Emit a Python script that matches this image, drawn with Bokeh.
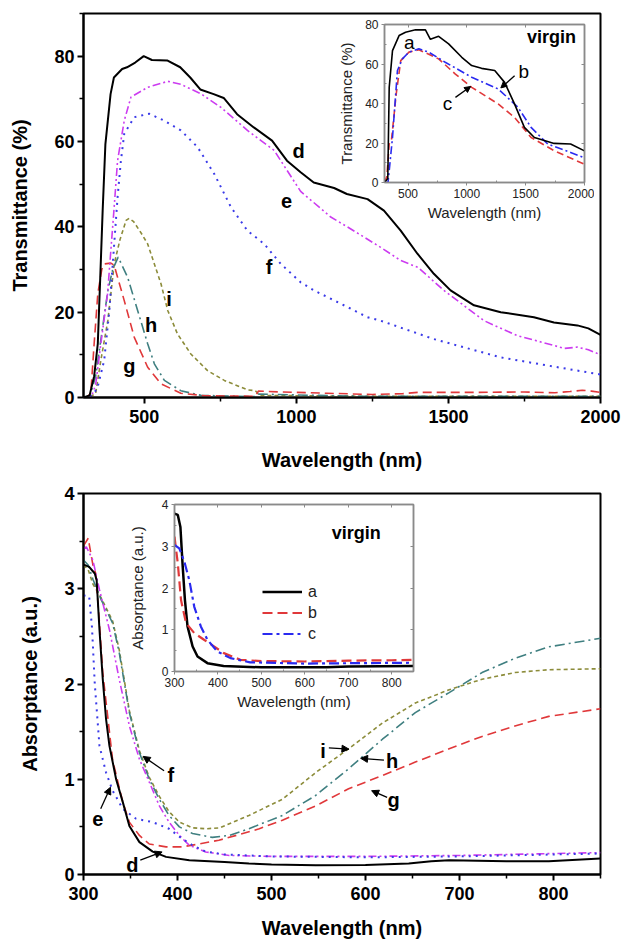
from bokeh.plotting import figure
from bokeh.models import Range1d, FixedTicker, LinearAxis, Arrow, NormalHead, Legend, LegendItem, ColumnDataSource
from bokeh.layouts import column
from bokeh.core.properties import value
from bokeh.embed import file_html
from bokeh.resources import INLINE

FONT = "Liberation Sans"

# ---------------- Data: top panel (Transmittance %) ----------------
td_x = [300, 320, 335, 347, 355, 363, 372, 389, 400, 427, 443, 470, 498, 525, 575, 618, 651, 684, 728, 761,
        805, 860, 920, 969, 1014, 1057, 1124, 1166, 1234, 1288, 1343, 1398, 1452, 1507, 1584, 1672, 1781,
        1847, 1924, 1960, 2000]
td_y = [0, 0.5, 5, 12.6, 28, 43.8, 59.4, 71.1, 75, 77, 77.4, 78.5, 80, 79.1, 79, 77.4, 75, 72.2, 71.1, 70.2,
        66.4, 63.3, 60.2, 55.5, 52.8, 50.4, 49.1, 47.7, 46.5, 43.8, 39.1, 33.7, 29, 25.1, 21.6, 20, 18.8,
        17.6, 16.9, 16.2, 14.7]
te_x = [300, 325, 340, 357, 379, 400, 412, 434, 456, 511, 577, 620, 686, 752, 839, 927, 1014, 1113, 1179,
        1277, 1343, 1400, 1485, 1617, 1726, 1847, 1880, 1924, 1960, 2000]
te_y = [0, 0, 3, 12.6, 24.3, 43.8, 55.5, 64.9, 70.4, 72.7, 74.1, 73.4, 71.2, 68, 62.6, 57.9, 48.3, 42.3, 39.5,
        35.2, 32.1, 30.5, 25.1, 18, 14.5, 12.2, 11.5, 11.8, 11.2, 10]
tf_x = [300, 320, 345, 368, 385, 401, 412, 423, 434, 467, 516, 565, 620, 675, 730, 785, 839, 894, 949, 1014,
        1058, 1168, 1234, 1277, 1452, 1672, 1891, 2000]
tf_y = [0, 0, 2, 8.7, 20.4, 36, 46.9, 55.5, 61.8, 65.7, 66.5, 64.9, 62.6, 58.7, 52.4, 44.6, 39.1, 36, 31.3, 27,
        25.1, 21.2, 18.8, 18, 13.7, 9.4, 6.7, 5.4]
tg_x = [300, 310, 324, 335, 347, 360, 368, 390, 401, 412, 434, 467, 511, 555, 620, 700, 865, 875, 950, 1100,
        1250, 1350, 1400, 1600, 1750, 1850, 1900, 1940, 1970, 2000]
tg_y = [0, 0, 1, 12.6, 24.3, 30, 31.3, 31.5, 31, 28.2, 22.7, 14.1, 7.1, 3.2, 1.0, 0.4, 0.3, 1.5, 1.3, 1.0,
        0.7, 0.9, 1.2, 1.2, 1.3, 1.1, 1.4, 1.7, 1.5, 1.2]
th_x = [300, 320, 340, 360, 380, 396, 414, 445, 478, 511, 533, 566, 620, 686, 865, 875, 1000, 1200, 1600, 2000]
th_y = [0, 0, 5, 15, 25, 30, 32.9, 28.2, 20.4, 12.6, 7.9, 4.0, 1.6, 0.5, 0.2, 0.8, 0.6, 0.3, 0.3, 0.3]
ti_x = [300, 320, 340, 357, 380, 401, 420, 440, 450, 465, 490, 511, 555, 577, 609, 653, 708, 763, 839, 865,
        880, 1200, 1600, 2000]
ti_y = [0, 0, 1, 8.7, 18, 31.3, 37, 41.5, 42, 41.2, 38.5, 36, 26.6, 20.4, 14.9, 10.2, 6.3, 4.0, 1.8, 1.6,
        0.5, 0.3, 0.3, 0.3]

# top inset (virgin)
ia_x = [300, 328, 340, 368, 424, 479, 564, 648, 690, 760, 845, 957, 1041, 1125, 1237, 1321, 1405, 1489, 1574,
        1742, 1882, 2000]
ia_y = [0, 2, 48.2, 66.8, 74.4, 76.1, 77.3, 77.3, 72.5, 74, 70.2, 63.4, 59.2, 57.8, 56.7, 50.7, 39.8, 27.9,
        22.8, 19.8, 19.5, 16]
ib_x = [300, 330, 368, 410, 452, 508, 592, 676, 816, 1041, 1266, 1434, 1546, 1687, 1882, 2000]
ib_y = [0, 0, 22.8, 56.7, 62.6, 66, 67.7, 66, 60.9, 53.3, 47.4, 38.1, 27.9, 19.5, 15.2, 12.5]
ic_x = [300, 320, 340, 360, 400, 438, 508, 592, 760, 900, 1041, 1266, 1405, 1546, 1742, 2000]
ic_y = [0, 3, 19.5, 22, 45, 61.7, 66, 67.2, 62.6, 55, 48.2, 39.8, 33, 22.8, 16.1, 9.2]

# ---------------- Data: bottom panel (Absorptance) ----------------
bd_x = [300, 301, 306, 312, 314, 317, 320.5, 324, 327.6, 334.7, 341.8, 348.8, 359.5, 373.6, 387.8, 412.6, 450,
        476, 500, 547, 600, 646, 670, 689, 750, 795, 850]
bd_y = [3.25, 3.25, 3.23, 3.16, 3.09, 2.57, 2.05, 1.63, 1.35, 1.0, 0.76, 0.51, 0.34, 0.24, 0.185, 0.15, 0.13,
        0.115, 0.105, 0.097, 0.10, 0.115, 0.14, 0.15, 0.14, 0.14, 0.167]
be_x = [300, 306, 309, 312, 317, 324, 331, 341.7, 356, 373.6, 391, 405, 416, 430, 450, 500, 600, 700, 800, 850]
be_y = [2.93, 2.92, 2.6, 2.0, 1.35, 1.07, 0.88, 0.69, 0.585, 0.55, 0.48, 0.376, 0.306, 0.24, 0.21, 0.19, 0.18,
        0.19, 0.21, 0.22]
bf_x = [300, 303, 310, 317, 327.6, 338, 348.8, 359.5, 370, 380.7, 391, 402, 412.6, 430, 455, 500, 600, 700,
        800, 850]
bf_y = [3.42, 3.44, 3.3, 2.99, 2.57, 2.05, 1.56, 1.21, 0.97, 0.72, 0.55, 0.41, 0.306, 0.237, 0.2, 0.19, 0.19,
        0.2, 0.22, 0.23]
bg_x = [300, 305, 310, 313, 317, 320.5, 331, 341.8, 348.8, 359.5, 370, 387.8, 405, 423, 444, 466, 487, 511.6,
        547, 582, 618, 653, 689, 724, 759, 795, 850]
bg_y = [3.45, 3.53, 3.25, 3.16, 2.64, 2.12, 1.2, 0.76, 0.55, 0.41, 0.32, 0.29, 0.29, 0.32, 0.36, 0.42, 0.48,
        0.57, 0.72, 0.90, 1.04, 1.18, 1.32, 1.45, 1.56, 1.66, 1.74]
bh_x = [300, 305, 310, 319, 331, 338, 348.8, 359.5, 370, 380.7, 391, 402, 416, 437, 455, 476, 511.6, 547, 582,
        618, 653, 689, 724, 759, 795, 850]
bh_y = [3.3, 3.25, 3.1, 2.88, 2.64, 2.33, 1.70, 1.28, 1.0, 0.79, 0.62, 0.50, 0.43, 0.39, 0.41, 0.48, 0.62,
        0.83, 1.11, 1.42, 1.70, 1.91, 2.12, 2.27, 2.39, 2.48]
bi_x = [300, 305, 310, 319, 331, 338, 348.8, 359.5, 370, 380.7, 391, 402, 416, 430, 445, 476, 511.6, 547, 582,
        618, 653, 689, 724, 759, 795, 850]
bi_y = [3.25, 3.2, 3.05, 2.9, 2.66, 2.36, 1.72, 1.30, 1.02, 0.82, 0.66, 0.55, 0.49, 0.48, 0.49, 0.62, 0.79,
        1.07, 1.32, 1.59, 1.80, 1.94, 2.05, 2.12, 2.15, 2.16]

# bottom inset (virgin)
ja_x = [300, 307.6, 313.6, 318.9, 324, 330, 341.7, 353, 375.8, 413, 500, 650, 700, 850]
ja_y = [3.78, 3.75, 3.46, 2.51, 1.71, 1.08, 0.6, 0.36, 0.2, 0.13, 0.1, 0.1, 0.12, 0.13]
jb_x = [300, 307.6, 315, 326.5, 345.5, 368, 391, 413.6, 451.6, 500, 600, 700, 800, 850]
jb_y = [3.23, 2.59, 1.71, 1.16, 0.92, 0.76, 0.6, 0.44, 0.28, 0.25, 0.24, 0.26, 0.27, 0.28]
jc_x = [300, 311, 322.7, 334, 345.5, 360.6, 375.8, 398.5, 428.8, 474, 600, 850]
jc_y = [3.03, 2.95, 2.63, 2.19, 1.55, 1.08, 0.76, 0.48, 0.32, 0.22, 0.19, 0.21]

# ticks
top_xticks = [500, 1000, 1500, 2000]
top_xminor = [750, 1250, 1750]
top_yticks = [0, 20, 40, 60, 80]
top_yminor = [10, 30, 50, 70, 90]
bot_xticks = [300, 400, 500, 600, 700, 800]
bot_xminor = [350, 450, 550, 650, 750, 850]
bot_yticks = [0, 1, 2, 3, 4]
bot_yminor = [0.5, 1.5, 2.5, 3.5]

# annotations
top_lbl = ["d", "e", "f", "i", "h", "g"]
top_lbl_x = [1007, 968, 910, 581, 522, 451]
top_lbl_y = [57.8, 46.1, 30.5, 23.1, 16.9, 7.5]
ins1_lbl = ["a", "b", "c", "virgin"]
ins1_lbl_x = [510, 1484, 836, 1720]
ins1_lbl_y = [71, 56.3, 39.8, 73.5]
ins1_arrows = [(1406, 54.1, 1289, 47.9), (903, 43.1, 1032, 48.6)]
bot_lbl = ["i", "h", "g", "f", "e", "d"]
bot_lbl_x = [554.8, 628.4, 630, 392.8, 315.3, 352]
bot_lbl_y = [1.30, 1.19, 0.78, 1.04, 0.585, 0.097]
bot_arrows = [(561, 1.33, 582.4, 1.316), (619.6, 1.20, 594.8, 1.22), (623, 0.81, 606.5, 0.88),
              (385.7, 1.09, 363.4, 1.24), (318.3, 0.69, 328.7, 0.916), (360.4, 0.15, 383.6, 0.237)]
ins2_virgin = (718, 3.31)

RED = "#e0383a"
MAG = "#cc3cf0"
BLUE = "#3a3ae8"
TEAL = "#3f7f80"
OLIVE = "#8c8c3a"
IBLUE = "#2a2af0"
GRAY = "#8a8a8a"


def style_main(p, xt, xm, yt, ym, xlabel, ylabel, xstand):
    p.outline_line_color = "black"
    p.outline_line_width = 2
    p.xgrid.visible = False
    p.ygrid.visible = False
    p.xaxis.ticker = FixedTicker(ticks=xt, minor_ticks=xm)
    p.yaxis.ticker = FixedTicker(ticks=yt, minor_ticks=ym)
    for ax in (p.xaxis[0], p.yaxis[0]):
        ax.axis_line_width = 2
        ax.axis_line_color = "black"
        ax.major_tick_line_width = 2
        ax.minor_tick_line_width = 1.5
        ax.major_tick_out = 6
        ax.major_tick_in = 0
        ax.minor_tick_out = 4
        ax.minor_tick_in = 0
        ax.major_label_text_font = FONT
        ax.major_label_text_font_size = "18px"
        ax.major_label_text_font_style = "bold"
        ax.major_label_text_color = "black"
        ax.axis_label_text_font = FONT
        ax.axis_label_text_font_size = "20px"
        ax.axis_label_text_font_style = "bold"
        ax.axis_label_text_color = "black"
    p.xaxis.axis_label = xlabel
    p.yaxis.axis_label = ylabel
    p.xaxis.major_label_standoff = 6
    p.xaxis.axis_label_standoff = xstand
    p.yaxis.major_label_standoff = 3
    p.yaxis.axis_label_standoff = 20


def style_inset(p, xt, xm, yt, ym, xlabel, ylabel, ystand):
    p.outline_line_color = GRAY
    p.outline_line_width = 1.5
    p.background_fill_color = "white"
    p.border_fill_alpha = 0
    p.xgrid.visible = False
    p.ygrid.visible = False
    xtk = FixedTicker(ticks=xt, minor_ticks=xm)
    ytk = FixedTicker(ticks=yt, minor_ticks=ym)
    p.xaxis.ticker = xtk
    p.yaxis.ticker = ytk
    for ax in (p.xaxis[0], p.yaxis[0]):
        ax.axis_line_color = GRAY
        ax.axis_line_width = 1.5
        ax.major_tick_line_color = GRAY
        ax.minor_tick_line_color = GRAY
        ax.major_tick_out = 3
        ax.major_tick_in = 0
        ax.minor_tick_out = 0
        ax.minor_tick_in = 2
        ax.major_label_text_font = FONT
        ax.major_label_text_font_size = "12px"
        ax.major_label_text_color = "#222222"
        ax.axis_label_text_font = FONT
        ax.axis_label_text_font_size = "15px"
        ax.axis_label_text_font_style = "normal"
        ax.axis_label_text_color = "#222222"
    p.xaxis.axis_label = xlabel
    p.yaxis.axis_label = ylabel
    p.xaxis.major_label_standoff = 3
    p.xaxis.axis_label_standoff = 3
    p.yaxis.major_label_standoff = 3
    p.yaxis.axis_label_standoff = ystand
    # mirrored inward ticks on the top and right edges (no labels)
    for loc, tk in (("above", xtk), ("right", ytk)):
        ax = LinearAxis(ticker=tk)
        ax.axis_line_color = GRAY
        ax.axis_line_width = 1.5
        ax.major_tick_line_color = GRAY
        ax.minor_tick_line_color = GRAY
        ax.major_tick_in = 3
        ax.major_tick_out = 0
        ax.minor_tick_in = 0
        ax.minor_tick_out = 0
        ax.major_label_text_font_size = "1px"
        ax.major_label_text_color = None
        ax.major_label_standoff = 0
        p.add_layout(ax, loc)


def add_labels(p, xs, ys, texts, size, style):
    src = ColumnDataSource(dict(x=xs, y=ys, t=texts))
    p.text(x="x", y="y", text="t", source=src, text_font=value(FONT), text_font_size=value(size),
           text_font_style=style, text_align="center", text_baseline="middle", text_color="black")


def add_arrows(p, arrows, size):
    for (x0, y0, x1, y1) in arrows:
        p.add_layout(Arrow(end=NormalHead(size=size, fill_color="black", line_color="black", line_width=1),
                           x_start=x0, y_start=y0, x_end=x1, y_end=y1, line_color="black", line_width=1.3))


# ---------------- Top main figure ----------------
p1 = figure(width=621, height=476, x_range=Range1d(300, 2000), y_range=Range1d(0, 90),
            output_backend="svg", toolbar_location=None,
            min_border_left=83, min_border_right=21, min_border_top=13, min_border_bottom=79)
p1.background_fill_color = "white"
p1.border_fill_color = "white"
style_main(p1, top_xticks, top_xminor, top_yticks, top_yminor, "Wavelength (nm)", "Transmittance (%)", 23)
p1.line(ti_x, ti_y, line_color=OLIVE, line_width=1.6, line_dash="4 3")
p1.line(th_x, th_y, line_color=TEAL, line_width=1.6, line_dash="10 4 2 4")
p1.line(tg_x, tg_y, line_color=RED, line_width=1.6, line_dash="9 5")
p1.line(tf_x, tf_y, line_color=BLUE, line_width=2, line_dash="2 5")
p1.line(te_x, te_y, line_color=MAG, line_width=1.6, line_dash="8 3 2 3 2 3")
p1.line(td_x, td_y, line_color="black", line_width=2)
add_labels(p1, top_lbl_x, top_lbl_y, top_lbl, "20px", "bold")

# ---------------- Bottom main figure ----------------
p2 = figure(width=621, height=467, x_range=Range1d(300, 850), y_range=Range1d(0, 4),
            output_backend="svg", toolbar_location=None,
            min_border_left=83, min_border_right=21, min_border_top=17, min_border_bottom=69)
p2.background_fill_color = "white"
p2.border_fill_color = "white"
style_main(p2, bot_xticks, bot_xminor, bot_yticks, bot_yminor, "Wavelength (nm)", "Absorptance (a.u.)", 14)
p2.line(bi_x, bi_y, line_color=OLIVE, line_width=1.6, line_dash="4 3")
p2.line(bh_x, bh_y, line_color=TEAL, line_width=1.6, line_dash="10 4 2 4")
p2.line(bg_x, bg_y, line_color=RED, line_width=1.6, line_dash="9 5")
p2.line(bf_x, bf_y, line_color=MAG, line_width=1.6, line_dash="8 3 2 3 2 3")
p2.line(be_x, be_y, line_color=BLUE, line_width=2, line_dash="2 5")
p2.line(bd_x, bd_y, line_color="black", line_width=2)
add_labels(p2, bot_lbl_x, bot_lbl_y, bot_lbl, "20px", "bold")
add_arrows(p2, bot_arrows, 7)

# ---------------- Top inset ----------------
q1 = figure(width=259, height=207, x_range=Range1d(300, 2000), y_range=Range1d(0, 80),
            output_backend="svg", toolbar_location=None,
            min_border_left=47, min_border_right=10, min_border_top=6, min_border_bottom=43,
            styles={"position": "absolute", "left": "335px", "top": "18px"})
style_inset(q1, top_xticks, top_xminor, top_yticks, top_yminor, "Wavelength (nm)", "Transmittance (%)", 7)
q1.line(ic_x, ic_y, line_color=RED, line_width=1.6, line_dash="7 4")
q1.line(ib_x, ib_y, line_color=IBLUE, line_width=1.6, line_dash="8 3 2 3")
q1.line(ia_x, ia_y, line_color="black", line_width=1.6)
add_labels(q1, ins1_lbl_x[:3], ins1_lbl_y[:3], ins1_lbl[:3], "19px", "normal")
add_labels(q1, ins1_lbl_x[3:], ins1_lbl_y[3:], ins1_lbl[3:], "18px", "bold")
add_arrows(q1, ins1_arrows, 6)

# ---------------- Bottom inset ----------------
q2 = figure(width=295, height=216, x_range=Range1d(300, 850), y_range=Range1d(0, 4),
            output_backend="svg", toolbar_location=None,
            min_border_left=45, min_border_right=7, min_border_top=6, min_border_bottom=43,
            styles={"position": "absolute", "left": "125px", "top": "498px"})
style_inset(q2, bot_xticks, bot_xminor, bot_yticks, bot_yminor, "Wavelength (nm)", "Absorptance (a.u.)", 13)
r_a = q2.line(ja_x, ja_y, line_color="black", line_width=2.5)
r_b = q2.line(jb_x, jb_y, line_color=RED, line_width=2.2, line_dash="10 5")
r_c = q2.line(jc_x, jc_y, line_color=IBLUE, line_width=2.2, line_dash="10 4 3 4")
add_labels(q2, [ins2_virgin[0]], [ins2_virgin[1]], ["virgin"], "18px", "bold")
leg = Legend(items=[LegendItem(label="a", renderers=[r_a]), LegendItem(label="b", renderers=[r_b]),
                    LegendItem(label="c", renderers=[r_c])],
             location=(88, 27), orientation="vertical", padding=0, margin=0, spacing=0,
             glyph_width=40, glyph_height=21, label_height=21, label_standoff=6,
             label_text_font=FONT, label_text_font_size="16px", label_text_color="#222222",
             border_line_alpha=0, background_fill_alpha=0)
q2.add_layout(leg, "center")

layout = column(p1, p2)
open("out.html", "w").write(file_html([layout, q1, q2], INLINE))
